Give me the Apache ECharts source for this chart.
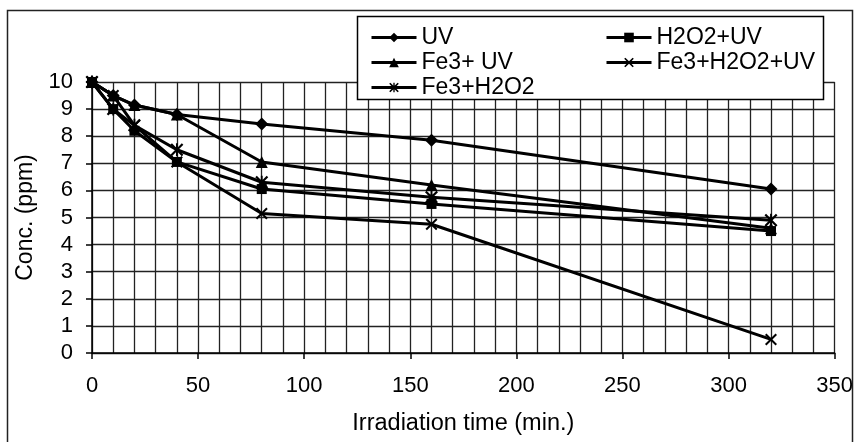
<!DOCTYPE html>
<html>
<head>
<meta charset="utf-8">
<script src="https://cdn.jsdelivr.net/npm/echarts@6/dist/echarts.min.js"></script>
<style>html,body{margin:0;padding:0;background:#fff}#c{width:856px;height:442px}</style>
</head>
<body>
<div id="c"></div>
<script>
var times = [0, 10, 20, 40, 80, 160, 320];
var seriesNames = ['UV', 'H2O2+UV', 'Fe3+ UV', 'Fe3+H2O2+UV', 'Fe3+H2O2'];
var uv = [10, 9.5, 9.15, 8.8, 8.45, 7.85, 6.05];
var h2o2Uv = [10, 9.0, 8.2, 7.05, 6.05, 5.5, 4.5];
var fe3Uv = [10, 9.5, 9.15, 8.8, 7.05, 6.2, 4.6];
var fe3H2o2Uv = [10, 9.5, 8.4, 7.05, 5.15, 4.75, 0.5];
var fe3H2o2 = [10, 9.0, 8.4, 7.5, 6.3, 5.75, 4.9];

var X_PATH = 'path://M0,1.2 L1.2,0 L5,3.8 L8.8,0 L10,1.2 L6.2,5 L10,8.8 L8.8,10 L5,6.2 L1.2,10 L0,8.8 L3.8,5 Z';
var STAR_PATH = 'path://M0,1.2 L1.2,0 L5,3.8 L8.8,0 L10,1.2 L6.2,5 L10,8.8 L8.8,10 L5,6.2 L1.2,10 L0,8.8 L3.8,5 Z M4.3,0 L5.7,0 L5.7,10 L4.3,10 Z';

function pairs(vals) { return times.map(function (t, i) { return [t, vals[i]]; }); }

var FONT = 'Liberation Sans, Arial, sans-serif';
function mk(name, vals, symbol, size) {
  return {
    name: name, type: 'line', data: pairs(vals), symbol: symbol, symbolSize: size,
    lineStyle: { color: '#000', width: 3 },
    itemStyle: { color: '#000' },
    z: 2
  };
}

var legendText = { fontSize: 23, color: '#000', fontFamily: FONT, lineHeight: 25 };

var chart = echarts.init(document.getElementById('c'));
chart.setOption({
  animation: false,
  backgroundColor: '#fff',
  textStyle: { fontFamily: FONT },
  grid: { left: 92, right: 21, top: 82, bottom: 89, containLabel: false },
  xAxis: {
    type: 'value', min: 0, max: 350, interval: 50,
    name: 'Irradiation time (min.)', nameLocation: 'middle', nameGap: 59,
    nameTextStyle: { fontSize: 23.5, color: '#000', fontFamily: FONT },
    axisLine: { show: true, lineStyle: { color: '#000', width: 1.5 } },
    axisTick: { show: true, length: 6, inside: false, lineStyle: { color: '#000', width: 1.5 } },
    axisLabel: { fontSize: 22, color: '#000', margin: 22, fontFamily: FONT },
    splitLine: { show: true, lineStyle: { color: '#222', width: 1.3 } },
    minorTick: { show: false, splitNumber: 5 },
    minorSplitLine: { show: true, lineStyle: { color: '#222', width: 1.3 } }
  },
  yAxis: {
    type: 'value', min: 0, max: 10, interval: 1,
    name: 'Conc. (ppm)', nameLocation: 'middle', nameGap: 54,
    nameTextStyle: { fontSize: 23, color: '#000', fontFamily: FONT },
    axisLine: { show: true, lineStyle: { color: '#000', width: 1.5 } },
    axisTick: { show: true, length: 6, lineStyle: { color: '#000', width: 1.5 } },
    axisLabel: { fontSize: 22, color: '#000', margin: 19, fontFamily: FONT },
    splitLine: { show: true, lineStyle: { color: '#222', width: 1.3 } }
  },
  legend: [
    {
      orient: 'vertical', left: 365, top: 20, itemWidth: 45, itemHeight: 12, itemGap: 0,
      data: [seriesNames[0], seriesNames[2], seriesNames[4]],
      lineStyle: { width: 3, color: '#000' },
      textStyle: legendText, selectedMode: false, z: 10
    },
    {
      orient: 'vertical', left: 600, top: 20, itemWidth: 45, itemHeight: 12, itemGap: 0,
      data: [seriesNames[1], seriesNames[3]],
      lineStyle: { width: 3, color: '#000' },
      textStyle: legendText, selectedMode: false, z: 10
    }
  ],
  graphic: [
    { type: 'rect', z: 1, silent: true, shape: { x: 7.5, y: 10.5, width: 845, height: 440 },
      style: { fill: 'none', stroke: '#222', lineWidth: 1.5 } },
    { type: 'rect', z: 5, silent: true, shape: { x: 357.5, y: 16.5, width: 466, height: 83 },
      style: { fill: '#fff', stroke: '#000', lineWidth: 1.5 } }
  ],
  series: [
    mk(seriesNames[0], uv, 'diamond', 13),
    mk(seriesNames[1], h2o2Uv, 'rect', 10),
    mk(seriesNames[2], fe3Uv, 'triangle', 12),
    mk(seriesNames[3], fe3H2o2Uv, X_PATH, 12),
    mk(seriesNames[4], fe3H2o2, STAR_PATH, 13)
  ]
});
</script>
</body>
</html>
